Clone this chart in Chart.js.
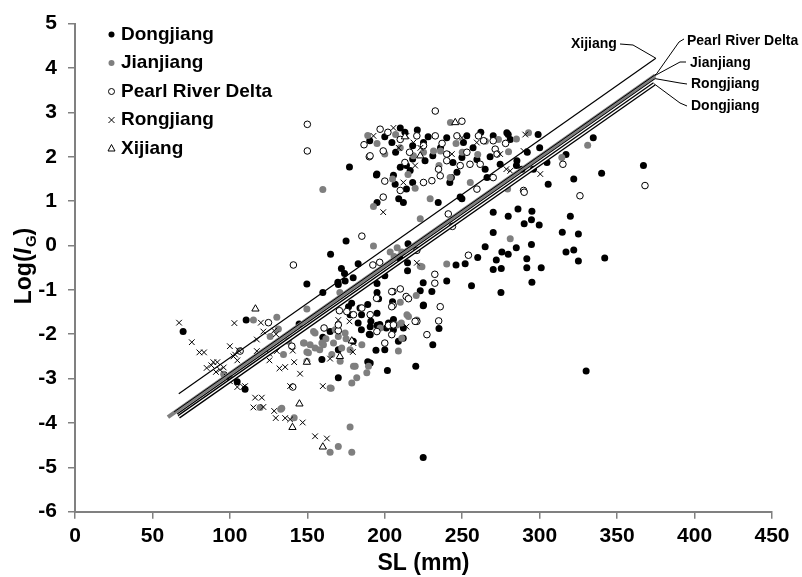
<!DOCTYPE html>
<html>
<head>
<meta charset="utf-8">
<script src="https://cdn.jsdelivr.net/npm/chart.js@4.4.1/dist/chart.umd.min.js"></script>
<style>
  body { margin: 0; background: #fff; }
</style>
</head>
<body>
<canvas id="myChart" width="802" height="577"></canvas>
<script>
// scatter data, [SL (mm), Log(IG)]
const dongjiang = [
  [177.2,1.77],[190.3,2.36],[194.6,1.59],[195,0.97],[210,2.65],[204.6,2.32],[194.9,1.61],[205.6,1.58],[214,1.8],[210,1.76],
  [216.4,1.69],[214,1.27],[218,1.42],[209,1.05],[206.7,1.38],[225,2.32],[231,2.02],[226,1.91],[240,2.43],[234.5,0.97],
  [242,1.42],[246.6,1.65],[244,1.87],[250.8,2.32],[243,1.53],[249.8,1.98],[253,2.47],[259.5,1.94],[266,1.53],[270,2.47],
  [264.8,1.72],[279.7,2.5],[281,2.39],[274.5,1.83],[285.3,1.91],[288.5,1.72],[299,2.5],[296,1.72],[305.5,1.38],[304.7,1.87],
  [300,2.2],[334.6,2.43],[340,1.63],[367,1.8],[248.7,1.09],[218,2.25],[212,0.97],[278.8,2.54],[285,1.8],[249.8,1.05],
  [207,2.1],[213,2.55],[221,2.6],[228,2.45],[236,2.2],[257,2.2],[262,2.55],[268,2.0],[292,2.1],[317,2.05],[322,1.5],[200,2.45],[218,1.95],
  [270,0.75],[286,0.82],[295,0.77],[279.7,0.66],[290,0.49],[294.7,0.58],[299.7,0.46],[319.8,0.66],[314.6,0.3],[325,0.26],
  [270,0.29],[294.7,0.02],[264.8,-0.03],[284.9,-0.05],[275.6,-0.15],[279.7,-0.2],[260,-0.27],[272,-0.33],[291.7,-0.3],[317,-0.15],
  [322,-0.1],[325,-0.35],[342,-0.28],[246,-0.44],[251.9,-0.41],[270,-0.54],[275.2,-0.52],[291.7,-0.5],[301,-0.5],[240,-0.8],
  [224.8,-0.84],[256,-0.91],[295,-0.83],[275,-1.06],[230.4,-1.04],[222.9,-1.02],[215,0.04],[214.7,-0.39],[214.7,-0.57],[200,-0.68],
  [195,-0.86],[210,-0.3],[224.8,-1.36],[195,-1.06],[196,-1.2],[205,-1.27],[195,-1.53],[195,-1.8],[205.6,-1.67],[201,-1.86],[235,-1.87],
  [175,0.1],[165,-0.2],[182.8,-0.41],[172,-0.52],[174,-0.63],[169.7,-0.83],[179.6,-0.73],[174.4,-0.8],[149.7,-0.87],[160,-1.06],
  [110.5,-1.68],[69.8,-1.94],[170,-0.88],
  [104.7,-3.07],[109.8,-3.24],[144.7,-1.77],[159.4,-2.57],[164.7,-1.94],[170,-2.35],[170,-2.98],[179.6,-2.16],[182.8,-1.75],[184.9,-1.9],
  [190,-2.0],[189,-2.62],[191,-1.71],[196.8,-1.78],[194.3,-2.36],[202.4,-1.75],[208.8,-2.16],[200,-2.35],[201.7,-2.82],[177.6,-1.56],
  [184,-1.41],[189,-1.33],[178.6,-1.3],[160,-2.07],[176.6,-1.38],[185,-1.56],[190.6,-1.83],[190.6,-2.01],[190.6,-2.65],[205.6,-1.9],
  [212,-1.86],[220,-2.72],[225,-1.34],[231,-2.24],[224.8,-4.78],[211.9,-2.09],[330,-2.83]
];
const jianjiang = [
  [160,1.26],[192.7,0.88],[189,2.48],[242.4,2.77],[231.5,2.13],[236,2.13],[273.4,2.39],[279.9,2.11],[292.8,2.54],[314.3,1.98],
  [331,2.26],[200,2.06],[218.5,2.02],[229.3,1.05],[242.2,1.53],[255.2,1.42],[219.6,1.29],[222.9,0.6],[279.3,1.27],[281,0.15],
  [210,2.2],[225,2.1],[265,2.35],[250,2.1],[205,1.5],[215,1.6],[207,2.5],[246,2.3],[260,2.05],[285,2.4],[195,2.3],[235,1.8],
  [192.7,-0.01],[203.5,-0.15],[211,-0.15],[206,-0.25],[208,-0.05],[222.9,-0.47],[240,-0.42],[224,-0.48],[171,-1.06],[210,-1.28],
  [220.3,-1.13],[215.3,-1.6],[210.7,-1.75],[149.7,-1.43],[130.3,-1.62],[115.2,-1.68],
  [119.5,-3.65],[132.8,-3.69],[141.5,-3.88],[131.3,-1.88],[137.8,-2.16],[134.6,-2.46],[154,-1.94],[148,-2.2],[151.8,-2.24],
  [149.7,-2.4],[149.7,-2.61],[159.4,-2.2],[166.9,-2.2],[170,-2.05],[172.2,-2.31],[180.9,-2.72],[181.9,-2.98],[188.4,-2.87],[178.7,-3.1],
  [165.4,-3.22],[177.6,-4.09],[164.7,-4.66],[170,-4.53],[178.7,-4.66],[126,-2.05],[147.5,-2.2],[150.7,-2.42],[155,-2.31],[155,-1.97],
  [160.4,-2.24],[165.8,-2.46],[171.2,-2.61],[174.4,-1.97],[177.6,-2.35],[179.8,-2.72],[189.5,-2.72],[164.7,-3.21],[133.5,-3.67],
  [197,-1.86],[207.8,-1.79],[208.8,-2.38],[214.3,-1.56],[211,-2.09],[220.7,-1.68],[185.2,-2.24],[162,-2.1],[168,-1.9],[175,-2.1],
  [158,-2.35],[100,-3.0],[96,-2.9]
];
const pearlRiverDelta = [
  [150,2.73],[150,2.13],[186.6,2.27],[190,2.0],[232.6,3.03],[249.8,2.8],[197,2.62],[210,2.39],[220.7,2.47],[232.6,2.47],
  [246.6,2.47],[260.5,2.47],[263.8,2.36],[270,2.36],[271.3,2.17],[272.5,2.06],[270,1.53],[289.6,1.24],[240,2.06],[240,1.91],
  [248.7,1.8],[255,1.83],[261.6,1.83],[234.7,1.72],[235.8,1.57],[230.4,1.46],[225,1.42],[259.5,1.27],[210,1.24],[199,1.09],
  [190.5,2.02],[199,2.13],[213,1.87],[202,2.55],[225,2.25],[237,2.3],[216,2.1],[200,1.45],[315,1.83],[326,1.12],[368,1.35],
  [290,1.2],[241,0.71],[243.7,0.43],[254,-0.22],[232.3,-0.65],[232.3,-0.85],[213.8,-1.15],[220.7,-0.11],[192.3,-0.44],
  [196.7,-0.38],[210,-0.98],[205.2,-1.04],[205.4,-1.35],[215.3,-1.2],[235.8,-1.38],[234.8,-1.7],[220.7,-1.71],[185.2,0.21],
  [141,-0.44],[202.4,-1.8],[124.9,-1.74],[140,-2.27],[140.6,-3.19],[160.8,-1.86],[170,-1.92],[170.7,-1.47],[185.2,-1.41],
  [194.7,-1.19],[200,-2.2],[204.5,-1.04],[204.5,-2.01],[170,-1.79],[175.5,-1.49],[179.8,-1.56],[190.6,-1.56],[194.9,-1.94],
  [205.6,-1.79],[204.5,-1.38],[219.6,-1.71],[227.2,-2.01],[106.6,-2.38],[253,2.1],[278,2.3]
];
const rongjiang = [
  [205.6,2.65],[214,2.47],[218.5,2.32],[249.8,2.43],[259.4,2.32],[290.7,2.5],[274.5,2.06],[289.6,2.13],[278.5,1.72],[300.4,1.61],
  [243.3,2.06],[219.6,1.8],[212,1.42],[192.7,2.47],[199,0.75],[281,1.68],[220.7,-0.39],[223,2.2],[209,2.2],
  [67.2,-1.74],[75.4,-2.18],[80.3,-2.41],[83.3,-2.41],[85,-2.76],[89.3,-2.63],[91.9,-2.63],[91,-2.85],[93.6,-2.8],[98,-2.96],
  [100,-3.06],[100,-2.27],[102.9,-1.75],[103.4,-2.46],[104.8,-2.59],[105.5,-2.36],[104.8,-3.19],[108.7,-3.19],[115.2,-3.65],[116.3,-3.43],
  [120,-1.74],[121.6,-1.94],[120.6,-3.43],[121.6,-3.64],[117.4,-2.38],[125.5,-2.59],[125.5,-2.44],[128.6,-1.92],[130.3,-2.38],[129.8,-2.0],
  [128.6,-3.73],[129.6,-3.89],[132,-2.77],[135.7,-2.74],[135.7,-3.89],[138.9,-3.92],[138.9,-3.17],[140.6,-2.37],[141.5,-2.63],[145.3,-2.89],
  [147,-3.99],[155,-4.3],[162.6,-4.35],[160,-3.17],[164.7,-2.55],[179.4,-2.4],[177.2,-1.71],[179.8,-2.2],[170,-1.68],[214,-1.83],
  [117.4,-2.12],[102.3,-2.5],[99,-2.91],[109.8,-3.17],[96,-2.75],[88,-2.7]
];
const xijiang = [
  [116.5,-1.43],[149.7,-2.63],[144.9,-3.57],[140.4,-4.1],[160,-4.54],[171,-2.5],[178.7,-2.15],[222.9,2.02],[245.5,2.77],[213,2.45]
];

// regression lines, start and end
const fitXijiang = [[67,-3.34],[375,4.22]];
const fitPearl = [[64,-3.75],[375.5,3.87]];
const fitJianjiang = [[60,-3.87],[374.5,3.83]];
const fitRongjiang = [[66,-3.8],[374.5,3.76]];
const fitDongjiang = [[67,-3.86],[374,3.64]];

const xMin = 0, xMax = 450, xStep = 50;
const yMin = -6, yMax = 5, yStep = 1;

const FONT = "'Liberation Sans', Arial, sans-serif";
const GREY = '#7f7f7f';

function pts(arr) {
    return arr.map(function(p) { return {x: p[0], y: p[1]}; });
}

function fitLine(arr, color, width, order) {
    return {
        type: 'line', data: pts(arr), borderColor: color, borderWidth: width,
        pointRadius: 0, fill: false, showLine: true, order: order
    };
}

// legend, y title and labels of the fitted lines
const extras = {
    id: 'extras',
    afterDraw: function(chart) {
        const ctx = chart.ctx;
        const xs = chart.scales.x, ys = chart.scales.y;

        // y title with italic I and subscript G
        ctx.save();
        ctx.translate(31, 266);
        ctx.rotate(-Math.PI / 2);
        ctx.fillStyle = '#000';
        ctx.textBaseline = 'alphabetic';
        const big = 'bold 23px ' + FONT, ital = 'italic bold 23px ' + FONT, small = 'bold 15px ' + FONT;
        ctx.font = big; const w1 = ctx.measureText('Log(').width, w4 = ctx.measureText(')').width;
        ctx.font = ital; const w2 = ctx.measureText('I').width;
        ctx.font = small; const w3 = ctx.measureText('G').width;
        let x0 = -(w1 + w2 + w3 + w4 + 1) / 2;
        ctx.font = big; ctx.fillText('Log(', x0, 0); x0 += w1;
        ctx.font = ital; ctx.fillText('I', x0, 0); x0 += w2 + 1;
        ctx.font = small; ctx.fillText('G', x0, 5); x0 += w3;
        ctx.font = big; ctx.fillText(')', x0, 0);
        ctx.restore();

        // legend
        const items = [
            {label: 'Dongjiang', style: 'dot', color: '#000'},
            {label: 'Jianjiang', style: 'dot', color: GREY},
            {label: 'Pearl River Delta', style: 'ring'},
            {label: 'Rongjiang', style: 'cross'},
            {label: 'Xijiang', style: 'tri'}
        ];
        ctx.save();
        ctx.font = 'bold 19px ' + FONT;
        ctx.textBaseline = 'middle';
        items.forEach(function(it, i) {
            const cy = 34.5 + i * 28.5, cx = 111.5;
            ctx.lineWidth = 1;
            ctx.strokeStyle = '#000';
            if (it.style === 'dot') {
                ctx.fillStyle = it.color;
                ctx.beginPath(); ctx.arc(cx, cy, 3, 0, Math.PI * 2); ctx.fill();
            } else if (it.style === 'ring') {
                ctx.beginPath(); ctx.arc(cx, cy, 3, 0, Math.PI * 2); ctx.stroke();
            } else if (it.style === 'cross') {
                ctx.beginPath();
                ctx.moveTo(cx - 3, cy - 3); ctx.lineTo(cx + 3, cy + 3);
                ctx.moveTo(cx + 3, cy - 3); ctx.lineTo(cx - 3, cy + 3);
                ctx.stroke();
            } else {
                ctx.beginPath();
                ctx.moveTo(cx, cy - 4); ctx.lineTo(cx + 3.5, cy + 2.5); ctx.lineTo(cx - 3.5, cy + 2.5);
                ctx.closePath(); ctx.stroke();
            }
            ctx.fillStyle = '#000';
            ctx.fillText(it.label, 121, cy);
        });
        ctx.restore();

        // labels at the end of the fitted lines
        function endOf(arr) {
            const p = arr[arr.length - 1];
            return [xs.getPixelForValue(p[0]), ys.getPixelForValue(p[1])];
        }
        const tags = [
            {text: 'Xijiang', fit: fitXijiang, tx: 571, ty: 44, path: [[633, 45], [620, 44]]},
            {text: 'Pearl River Delta', fit: fitPearl, tx: 687, ty: 41, path: [[679, 42], [684, 39]]},
            {text: 'Jianjiang', fit: fitJianjiang, tx: 690, ty: 63, path: [[680, 62], [686, 62]]},
            {text: 'Rongjiang', fit: fitRongjiang, tx: 691, ty: 84, path: [[680, 83], [687, 84]]},
            {text: 'Dongjiang', fit: fitDongjiang, tx: 691, ty: 106, path: [[680, 103], [687, 106]]}
        ];
        ctx.save();
        ctx.font = 'bold 14px ' + FONT;
        ctx.textBaseline = 'middle';
        ctx.fillStyle = '#000';
        ctx.strokeStyle = '#000';
        ctx.lineWidth = 1;
        tags.forEach(function(t) {
            const e = endOf(t.fit);
            ctx.beginPath();
            ctx.moveTo(e[0], e[1]);
            t.path.forEach(function(p) { ctx.lineTo(p[0], p[1]); });
            ctx.stroke();
            ctx.fillText(t.text, t.tx, t.ty);
        });
        ctx.restore();
    }
};

const ctx = document.getElementById('myChart').getContext('2d');
const myChart = new Chart(ctx, {
    type: 'scatter',
    data: {
        datasets: [
            fitLine(fitXijiang, '#000', 1.2, 1),
            fitLine(fitPearl, '#000', 1, 2),
            fitLine(fitJianjiang, GREY, 4, 3),
            fitLine(fitRongjiang, '#000', 1.2, 2),
            fitLine(fitDongjiang, '#fff', 1.4, 0),
            fitLine(fitDongjiang, '#000', 4, 1),
            {
                label: 'Dongjiang', data: pts(dongjiang), pointStyle: 'circle',
                backgroundColor: '#000', borderColor: '#000', pointRadius: 3.5, borderWidth: 0, order: 9
            },
            {
                label: 'Jianjiang', data: pts(jianjiang), pointStyle: 'circle',
                backgroundColor: GREY, borderColor: GREY, pointRadius: 3.5, borderWidth: 0, order: 8
            },
            {
                label: 'Pearl River Delta', data: pts(pearlRiverDelta), pointStyle: 'circle',
                backgroundColor: '#fff', borderColor: '#000', pointRadius: 3.3, borderWidth: 1, order: 7
            },
            {
                label: 'Rongjiang', data: pts(rongjiang), pointStyle: 'crossRot',
                backgroundColor: '#000', borderColor: '#000', pointRadius: 4, borderWidth: 1, order: 6
            },
            {
                label: 'Xijiang', data: pts(xijiang), pointStyle: 'triangle',
                backgroundColor: '#fff', borderColor: '#000', pointRadius: 4.2, borderWidth: 1, order: 5
            }
        ]
    },
    options: {
        responsive: false,
        animation: false,
        layout: { padding: { top: 21, right: 30, bottom: 0, left: 0 } },
        plugins: {
            legend: { display: false },
            tooltip: { enabled: false }
        },
        scales: {
            x: {
                type: 'linear', min: xMin, max: xMax,
                ticks: { stepSize: xStep, color: '#000', padding: 5, font: { family: FONT, size: 21, weight: 'bold' } },
                grid: { drawOnChartArea: false, drawTicks: true, tickLength: 7, color: '#808080', lineWidth: 1.5 },
                border: { display: true, color: '#808080', width: 2 },
                title: { display: true, text: 'SL (mm)', color: '#000', padding: { top: 0, bottom: 0 },
                         font: { family: FONT, size: 23, weight: 'bold' } },
                afterFit: function(scale) { scale.height = 65.3; }
            },
            y: {
                type: 'linear', min: yMin, max: yMax,
                ticks: { stepSize: yStep, color: '#000', padding: 11, font: { family: FONT, size: 21, weight: 'bold' } },
                grid: { drawOnChartArea: false, drawTicks: true, tickLength: 7, color: '#808080', lineWidth: 1.5 },
                border: { display: true, color: '#808080', width: 2 },
                afterFit: function(scale) { scale.width = 75; }
            }
        }
    },
    plugins: [extras]
});
</script>
</body>
</html>
